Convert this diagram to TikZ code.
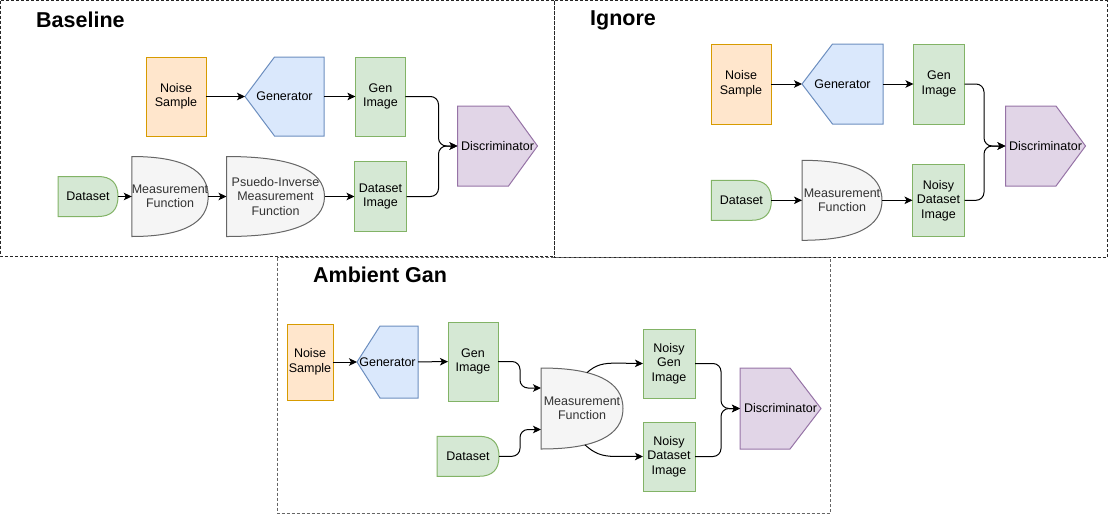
\documentclass[tikz,border=0pt]{standalone}
\usepackage{fontspec}
\setmainfont{Liberation Sans}
\usetikzlibrary{arrows.meta,calc,backgrounds}
\definecolor{orF}{HTML}{FFE6CC}\definecolor{orD}{HTML}{D79B00}
\definecolor{blF}{HTML}{DAE8FC}\definecolor{blD}{HTML}{6C8EBF}
\definecolor{grF}{HTML}{D5E8D4}\definecolor{grD}{HTML}{82B366}
\definecolor{puF}{HTML}{E1D5E7}\definecolor{puD}{HTML}{9673A6}
\definecolor{gyF}{HTML}{F5F5F5}\definecolor{gyD}{HTML}{666666}
\definecolor{gyT}{HTML}{333333}
\tikzset{
  lbl/.style={inner sep=0pt, outer sep=0pt, align=center, font=\fontsize{12.5}{14.5}\selectfont, text=black},
  noisebox/.style={lbl, draw=orD, fill=orF, line width=1pt},
  imgbox/.style={lbl, draw=grD, fill=grF, line width=1pt},
  hidden/.style={lbl, draw=none},
  measlbl/.style={lbl, draw=none, text=gyT},
  genlook/.style={draw=blD, fill=blF, line width=1pt},
  disclook/.style={draw=puD, fill=puF, line width=1pt},
  measlook/.style={draw=gyD, fill=gyF, line width=1pt},
  dslook/.style={draw=grD, fill=grF, line width=1pt},
  paneltop/.style={draw=black!85, line width=0.8pt, dash pattern=on 3pt off 2pt},
  panelbot/.style={draw=black!60, line width=0.8pt, dash pattern=on 3pt off 2pt},
  ttl/.style={inner sep=0pt, font=\bfseries\fontsize{21.5}{25}\selectfont, anchor=west},
  arr/.style={draw=black, line width=1pt, -{Stealth[length=8pt,width=7.5pt,inset=2pt]}},
  bus/.style={arr, rounded corners=8pt},
}
\newcommand\genshape[2]{%
  \begin{scope}[on background layer]
  \draw[genlook] (#1.west) -- ([xshift=#2pt]#1.north west) -- (#1.north east) -- (#1.south east) -- ([xshift=#2pt]#1.south west) -- cycle;
  \end{scope}}
\newcommand\discshape[2]{%
  \begin{scope}[on background layer]
  \draw[disclook] (#1.north west) -- ([xshift=-#2pt]#1.north east) -- (#1.east) -- ([xshift=-#2pt]#1.south east) -- (#1.south west) -- cycle;
  \end{scope}}
\newcommand\orshape[1]{%
  \begin{scope}[on background layer]
  \draw[measlook] (#1.north west) .. controls ($(#1.north west)!2/3!(#1.north east)$) and ($(#1.east)!2/3!(#1.north east)$) .. (#1.east)
     .. controls ($(#1.east)!2/3!(#1.south east)$) and ($(#1.south west)!2/3!(#1.south east)$) .. (#1.south west) -- cycle;
  \end{scope}}
\newcommand\delayshape[1]{%
  \begin{scope}[on background layer]
  \draw[dslook] (#1.north west) -- ([xshift=-20pt]#1.north east) .. controls ([xshift=-6.67pt]#1.north east) and ($(#1.east)!2/3!(#1.north east)$) .. (#1.east)
     .. controls ($(#1.east)!2/3!(#1.south east)$) and ([xshift=-6.67pt]#1.south east) .. ([xshift=-20pt]#1.south east) -- (#1.south west) -- cycle;
  \end{scope}}
\begin{document}
\begin{tikzpicture}[x=1pt,y=-1pt]
\useasboundingbox (0,0) rectangle (1108,515);
% panels
\draw[paneltop] (0.5,0.5) rectangle (554,256);
\draw[paneltop] (554,0.5) rectangle (1107,257);
\draw[panelbot] (277,257.5) rectangle (830,513);
\node[ttl] (tb) at (36,20) {Baseline};
\node[ttl] (ti) at (590,20) {Ignore};
\node[ttl] (ta) at (313,275) {Ambient Gan};

% ---------- Baseline ----------
\node[noisebox, minimum width=60pt, minimum height=79pt] (noise1) at (176,96.5) {Noise\\Sample};
\node[hidden, minimum width=79pt, minimum height=79pt] (gen1) at (284.5,96.5) {Generator};
\genshape{gen1}{29.5}
\node[imgbox, minimum width=50pt, minimum height=79pt] (genimg1) at (380.4,96.5) {Gen\\Image};
\node[hidden, minimum width=80pt, minimum height=80pt] (disc1) at (497.5,146) {Discriminator};
\discshape{disc1}{29}
\node[hidden, minimum width=60pt, minimum height=40pt] (ds1) at (88,196.5) {Dataset};
\delayshape{ds1}
\node[measlbl, minimum width=75pt, minimum height=80pt] (meas1) at (170,196.5) {Measurement\\Function};
\orshape{meas1}
\node[measlbl, minimum width=98pt, minimum height=80pt] (pinv1) at (275.5,196.5) {Psuedo-Inverse\\Measurement\\Function};
\orshape{pinv1}
\node[imgbox, minimum width=52pt, minimum height=70pt] (dsimg1) at (380.5,196.5) {Dataset\\Image};
\coordinate (j1) at (438.5,146);
\draw[arr] (noise1) -- (gen1);
\draw[arr] (gen1) -- (genimg1);
\draw[arr] (ds1) -- (meas1);
\draw[arr] (meas1) -- (pinv1);
\draw[arr] (pinv1) -- (dsimg1);
\draw[bus] (genimg1.east) -| (j1) -- (disc1.west);
\draw[bus] (dsimg1.east) -| (j1) -- (disc1.west);

% ---------- Ignore ----------
\node[noisebox, minimum width=60pt, minimum height=80pt] (noise2) at (741,84) {Noise\\Sample};
\node[hidden, minimum width=81pt, minimum height=80pt] (gen2) at (842.5,84) {Generator};
\genshape{gen2}{30.5}
\node[imgbox, minimum width=51pt, minimum height=80pt] (genimg2) at (939,84) {Gen\\Image};
\node[hidden, minimum width=80pt, minimum height=80pt] (disc2) at (1045.5,146) {Discriminator};
\discshape{disc2}{29.5}
\node[hidden, minimum width=60pt, minimum height=40pt] (ds2) at (741.4,200.3) {Dataset};
\delayshape{ds2}
\node[measlbl, minimum width=80pt, minimum height=80pt] (meas2) at (842,200.3) {Measurement\\Function};
\orshape{meas2}
\node[imgbox, minimum width=52pt, minimum height=72pt] (nds2) at (938.5,200.3) {Noisy\\Dataset\\Image};
\coordinate (j2) at (984,146);
\draw[arr] (noise2) -- (gen2);
\draw[arr] (gen2) -- (genimg2);
\draw[arr] (ds2) -- (meas2);
\draw[arr] (meas2) -- (nds2);
\draw[bus] (genimg2.east) -| (j2) -- (disc2.west);
\draw[bus] (nds2.east) -| (j2) -- (disc2.west);

% ---------- Ambient Gan ----------
\node[noisebox, minimum width=46pt, minimum height=76pt] (noise3) at (310,362) {Noise\\Sample};
\node[hidden, minimum width=61pt, minimum height=72pt] (gen3) at (387.5,362) {Generator};
\genshape{gen3}{23}
\node[imgbox, minimum width=50pt, minimum height=79pt] (genimg3) at (473,361.5) {Gen\\Image};
\node[measlbl, minimum width=82pt, minimum height=81pt] (meas3) at (582,408.5) {Measurement\\Function};
\orshape{meas3}
\node[hidden, minimum width=62pt, minimum height=40pt] (ds3) at (468,456.3) {Dataset};
\delayshape{ds3}
\node[imgbox, minimum width=52pt, minimum height=69pt] (ngen3) at (669,363.5) {Noisy\\Gen\\Image};
\node[imgbox, minimum width=52pt, minimum height=69pt] (nds3) at (669,456.5) {Noisy\\Dataset\\Image};
\node[hidden, minimum width=81pt, minimum height=81pt] (disc3) at (780.5,408.5) {Discriminator};
\discshape{disc3}{31}
\coordinate (m3a) at ($(meas3.west)+(0,-20.5)$);
\coordinate (m3b) at ($(meas3.west)+(0,21)$);
\coordinate (j3a) at (520,388);
\coordinate (j3b) at (520,429.5);
\coordinate (m3o1) at ($(meas3.north west)+(46,4.6)$);
\coordinate (m3o2) at ($(meas3.south west)+(44,-4.1)$);
\coordinate (j3c) at (721,408.5);
\draw[arr] (noise3) -- (gen3);
\draw[arr] (gen3) -- (genimg3);
\draw[bus] (genimg3.east) -| (j3a) -- (m3a);
\draw[bus] (ds3.east) -| (j3b) -- (m3b);
\draw[arr] (m3o1) .. controls ($(m3o1)+(9,-8)$) and ($(m3o1)+(16,-9.5)$) .. ($(m3o1)+(30,-9.5)$) -- (ngen3.west);
\draw[arr] (m3o2) .. controls ($(m3o2)+(9,8)$) and ($(m3o2)+(16,11.5)$) .. ($(m3o2)+(30,11.5)$) -- (nds3.west);
\draw[bus] (ngen3.east) -| (j3c) -- (disc3.west);
\draw[bus] (nds3.east) -| (j3c) -- (disc3.west);
\end{tikzpicture}
\end{document}
